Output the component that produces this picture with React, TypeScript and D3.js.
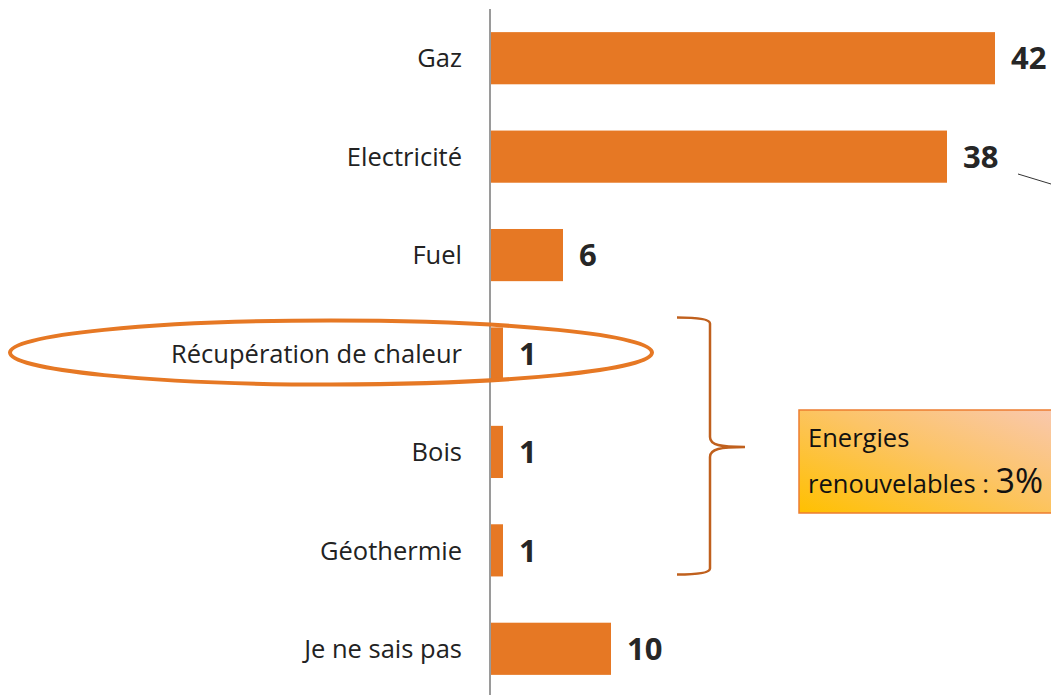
import React from "react";
import * as d3 from "d3";

const categories = ["Gaz", "Electricité", "Fuel", "Récupération de chaleur", "Bois", "Géothermie", "Je ne sais pas"];
const values = [42, 38, 6, 1, 1, 1, 10];
const renewables = ["Récupération de chaleur", "Bois", "Géothermie"];
const renewableShare = "3%";

const width = 1051;
const height = 695;
const axisX = 490;
const barColor = "#E67824";

export default function App() {
  const y = d3.scaleBand<string>().domain(categories).range([9, 698]).paddingInner(0.47).paddingOuter(0.235);
  const x = d3.scaleLinear().domain([0, 42]).range([axisX + 1, 995]);

  const bw = y.bandwidth();
  const mid = (c: string) => (y(c) as number) + bw / 2;

  // accolade autour des renouvelables
  const bTop = (y(renewables[0]) as number) - 10;
  const bBot = (y(renewables[renewables.length - 1]) as number) + bw - 2;
  const bMid = (bTop + bBot) / 2 + 1;
  const bx = 710;
  const bracket = `M677,${bTop} C700,${bTop} 710,${bTop + 2} ${bx},${bTop + 6} L${bx},${bMid - 10} C${bx},${bMid - 2} 720,${bMid} 745,${bMid} C720,${bMid} ${bx},${bMid + 2} ${bx},${bMid + 10} L${bx},${bBot - 6} C${bx},${bBot - 2} 700,${bBot} 677,${bBot}`;

  const recY = mid("Récupération de chaleur");

  return (
    <svg width={width} height={height} style={{ position: "absolute", left: 0, top: 0, fontFamily: "'Open Sans', sans-serif" }}>
      <defs>
        <linearGradient id="boxGrad" x1="0" y1="1" x2="1" y2="0">
          <stop offset="0" stopColor="#FFC000" />
          <stop offset="0.55" stopColor="#FCC467" />
          <stop offset="1" stopColor="#F9C8B0" />
        </linearGradient>
      </defs>
      {categories.map((c, i) => (
        <g key={c}>
          <rect x={x(0)} y={y(c)} width={x(values[i]) - x(0)} height={bw} fill={barColor} />
          <text x={462} y={mid(c)} dy="0.36em" textAnchor="end" fontSize={25.5} fill="#222">{c}</text>
          <text x={x(values[i]) + 16} y={mid(c)} dy="0.36em" fontSize={31} fontWeight="bold" fill="#262626">{values[i]}</text>
        </g>
      ))}
      <line x1={axisX} x2={axisX} y1={9} y2={height} stroke="#9a9a9a" strokeWidth={2} />
      <ellipse cx={331} cy={recY - 1} rx={321} ry={32} fill="none" stroke={barColor} strokeWidth={4} />
      <path d={bracket} fill="none" stroke="#C0601D" strokeWidth={2.5} />
      <line x1={1018} y1={174} x2={1051} y2={184} stroke="#333" strokeWidth={1} />
      <rect x={799} y={410} width={260} height={103} fill="url(#boxGrad)" stroke="#ED7D31" strokeWidth={1.5} />
      <text x={808} y={447} fontSize={25.5} fill="#111">Energies</text>
      <text x={808} y={493} fontSize={25.5} fill="#111">
        renouvelables : <tspan fontSize={34}>{renewableShare}</tspan>
      </text>
    </svg>
  );
}
